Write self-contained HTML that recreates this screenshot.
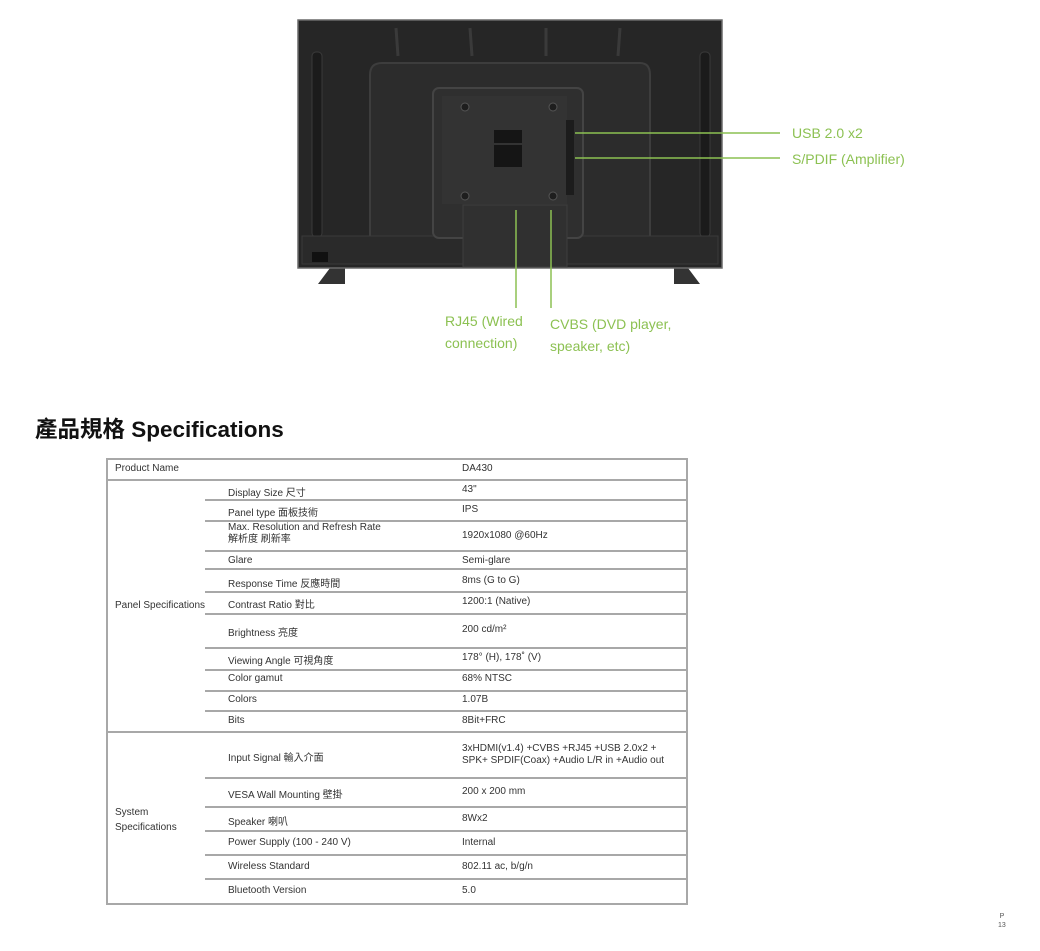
<!DOCTYPE html>
<html><head><meta charset="utf-8"><style>
body{margin:0;width:1040px;height:951px;background:#fff;position:relative;overflow:hidden;font-family:"Liberation Sans","Noto Sans CJK TC",sans-serif}
.a{position:absolute;white-space:nowrap}
.g{color:#8cc152;font-size:14px;line-height:22px}
.t{font-size:10px;color:#333}
.h{position:absolute;height:2px;background:#a8a8a8}
.v{position:absolute;width:2px;background:#a8a8a8}
</style></head><body>
<svg class="a" style="left:0;top:0" width="1040" height="360">
<polygon points="318,284 330,268 345,268 345,284" fill="#333"/>
<polygon points="700,284 688,268 674,268 674,284" fill="#333"/>
<rect x="298" y="20" width="424" height="248" fill="#262626" stroke="#6a6a6a" stroke-width="1.5"/>
<rect x="312" y="52" width="10" height="185" rx="4" fill="#1b1b1b" stroke="#3a3a3a"/>
<rect x="700" y="52" width="10" height="185" rx="4" fill="#1b1b1b" stroke="#3a3a3a"/>
<g stroke="#3a3a3a" stroke-width="3"><line x1="396" y1="28" x2="398" y2="56"/><line x1="470" y1="28" x2="472" y2="56"/><line x1="546" y1="28" x2="546" y2="56"/><line x1="620" y1="28" x2="618" y2="56"/></g>
<path d="M370,240 L370,75 Q370,63 382,63 L640,63 Q650,63 650,75 L650,240" fill="#2c2c2c" stroke="#3d3d3d" stroke-width="2"/>
<rect x="302" y="236" width="416" height="28" fill="#2a2a2a" stroke="#3a3a3a"/>
<rect x="433" y="88" width="150" height="150" rx="6" fill="#2f2f2f" stroke="#444" stroke-width="2"/>
<rect x="463" y="205" width="104" height="62" fill="#303030" stroke="#3e3e3e"/>
<rect x="442" y="96" width="125" height="108" fill="#333"/>
<rect x="566" y="120" width="8" height="75" fill="#1c1c1c"/>
<rect x="494" y="130" width="28" height="13" fill="#151515"/>
<rect x="494" y="145" width="28" height="22" fill="#151515"/>
<g fill="#1e1e1e" stroke="#555"><circle cx="465" cy="107" r="4"/><circle cx="553" cy="107" r="4"/><circle cx="465" cy="196" r="4"/><circle cx="553" cy="196" r="4"/></g>
<rect x="312" y="252" width="16" height="10" fill="#111"/>
<g stroke="#8cc152" stroke-width="1.5"><line x1="575" y1="133" x2="780" y2="133"/><line x1="575" y1="158" x2="780" y2="158"/><line x1="516" y1="210" x2="516" y2="308"/><line x1="551" y1="210" x2="551" y2="308"/></g>
</svg>
<div class="a g" style="left:792px;top:122px">USB 2.0 x2</div>
<div class="a g" style="left:792px;top:148px">S/PDIF (Amplifier)</div>
<div class="a g" style="left:445px;top:310px">RJ45 (Wired<br>connection)</div>
<div class="a g" style="left:550px;top:313px">CVBS (DVD player,<br>speaker, etc)</div>
<div class="a" style="left:35px;top:412px;font-size:22.5px;font-weight:bold;color:#111">產品規格 Specifications</div>

<div class="h" style="left:107px;top:458px;width:581px"></div>
<div class="h" style="left:107px;top:479px;width:581px"></div>
<div class="h" style="left:107px;top:731px;width:581px"></div>
<div class="h" style="left:107px;top:903px;width:581px"></div>
<div class="v" style="left:106px;top:458px;height:447px"></div>
<div class="v" style="left:686px;top:458px;height:447px"></div>
<div class="h" style="left:205px;top:499px;width:483px"></div>
<div class="h" style="left:205px;top:520px;width:483px"></div>
<div class="h" style="left:205px;top:550px;width:483px"></div>
<div class="h" style="left:205px;top:568px;width:483px"></div>
<div class="h" style="left:205px;top:591px;width:483px"></div>
<div class="h" style="left:205px;top:613px;width:483px"></div>
<div class="h" style="left:205px;top:647px;width:483px"></div>
<div class="h" style="left:205px;top:669px;width:483px"></div>
<div class="h" style="left:205px;top:690px;width:483px"></div>
<div class="h" style="left:205px;top:710px;width:483px"></div>
<div class="h" style="left:205px;top:777px;width:483px"></div>
<div class="h" style="left:205px;top:806px;width:483px"></div>
<div class="h" style="left:205px;top:830px;width:483px"></div>
<div class="h" style="left:205px;top:854px;width:483px"></div>
<div class="h" style="left:205px;top:878px;width:483px"></div>

<div class="a t" style="left:115px;top:463px">Product Name</div><div class="a t" style="left:462px;top:463px">DA430</div>
<div class="a t" style="left:115px;top:600px">Panel Specifications</div>
<div class="a t" style="left:228px;top:484px">Display Size 尺寸</div><div class="a t" style="left:462px;top:484px">43"</div>
<div class="a t" style="left:228px;top:504px">Panel type 面板技術</div><div class="a t" style="left:462px;top:504px">IPS</div>
<div class="a t" style="left:228px;top:522px;line-height:12px">Max. Resolution and Refresh Rate<br>解析度 刷新率</div><div class="a t" style="left:462px;top:530px">1920x1080 @60Hz</div>
<div class="a t" style="left:228px;top:555px">Glare</div><div class="a t" style="left:462px;top:555px">Semi-glare</div>
<div class="a t" style="left:228px;top:575px">Response Time 反應時間</div><div class="a t" style="left:462px;top:575px">8ms (G to G)</div>
<div class="a t" style="left:228px;top:596px">Contrast Ratio 對比</div><div class="a t" style="left:462px;top:596px">1200:1 (Native)</div>
<div class="a t" style="left:228px;top:624px">Brightness 亮度</div><div class="a t" style="left:462px;top:624px">200 cd/m²</div>
<div class="a t" style="left:228px;top:652px">Viewing Angle 可視角度</div><div class="a t" style="left:462px;top:652px">178° (H), 178˚ (V)</div>
<div class="a t" style="left:228px;top:673px">Color gamut</div><div class="a t" style="left:462px;top:673px">68% NTSC</div>
<div class="a t" style="left:228px;top:694px">Colors</div><div class="a t" style="left:462px;top:694px">1.07B</div>
<div class="a t" style="left:228px;top:715px">Bits</div><div class="a t" style="left:462px;top:715px">8Bit+FRC</div>
<div class="a t" style="left:115px;top:805px;line-height:15px">System<br>Specifications</div>
<div class="a t" style="left:228px;top:749px">Input Signal 輸入介面</div><div class="a t" style="left:462px;top:743px;line-height:12px">3xHDMI(v1.4) +CVBS +RJ45 +USB 2.0x2 +<br>SPK+ SPDIF(Coax) +Audio L/R in +Audio out</div>
<div class="a t" style="left:228px;top:786px">VESA Wall Mounting 壁掛</div><div class="a t" style="left:462px;top:786px">200 x 200 mm</div>
<div class="a t" style="left:228px;top:813px">Speaker 喇叭</div><div class="a t" style="left:462px;top:813px">8Wx2</div>
<div class="a t" style="left:228px;top:837px">Power Supply (100 - 240 V)</div><div class="a t" style="left:462px;top:837px">Internal</div>
<div class="a t" style="left:228px;top:861px">Wireless Standard</div><div class="a t" style="left:462px;top:861px">802.11 ac, b/g/n</div>
<div class="a t" style="left:228px;top:885px">Bluetooth Version</div><div class="a t" style="left:462px;top:885px">5.0</div>
<div class="a" style="left:998px;top:912px;font-size:7px;color:#555;line-height:9px;text-align:center">P<br>13</div>
</body></html>
